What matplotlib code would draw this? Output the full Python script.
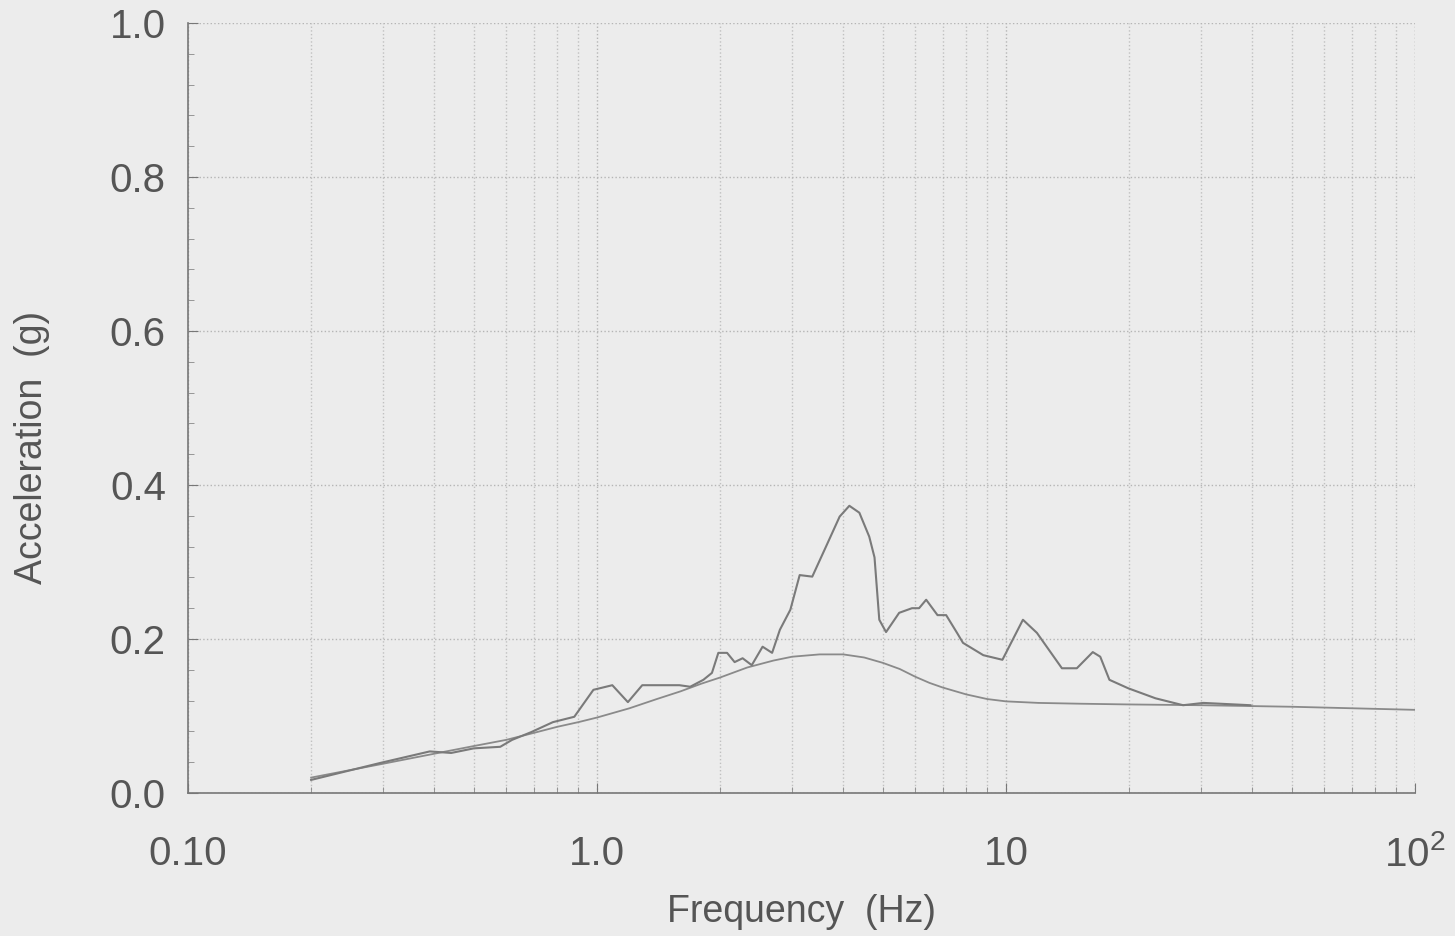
import numpy as np
import matplotlib.pyplot as plt
from matplotlib.ticker import FixedLocator, FixedFormatter, LogLocator, MultipleLocator

# Smooth design spectrum (Hz, g)
design_f = [0.2, 0.3, 0.4, 0.5, 0.6, 0.7, 0.8, 0.9, 1.0, 1.2, 1.4, 1.6, 1.8, 2.0, 2.33,
            2.7, 3.0, 3.5, 4.0, 4.5, 5.0, 5.5, 6.0, 6.5, 7.0, 8.0, 9.0, 10.0, 12.0, 15.0,
            20.0, 30.0, 50.0, 100.0]
design_g = [0.020, 0.038, 0.051, 0.061, 0.069, 0.078, 0.086, 0.092, 0.098, 0.110, 0.122,
            0.132, 0.142, 0.150, 0.163, 0.172, 0.177, 0.180, 0.180, 0.176, 0.169, 0.161,
            0.151, 0.143, 0.137, 0.128, 0.122, 0.119, 0.117, 0.116, 0.115, 0.114, 0.112,
            0.108]

# Measured response spectrum (Hz, g)
meas_f = [0.2, 0.295, 0.39, 0.44, 0.5, 0.58, 0.62, 0.69, 0.78, 0.88, 0.98, 1.09, 1.19,
          1.29, 1.59, 1.69, 1.82, 1.91, 1.98, 2.08, 2.17, 2.27, 2.39, 2.54, 2.68, 2.80,
          2.97, 3.13, 3.36, 3.63, 3.92, 4.14, 4.38, 4.63, 4.77, 4.90, 5.09, 5.48, 5.89,
          6.13, 6.38, 6.80, 7.14, 7.59, 7.85, 8.8, 9.8, 11.0, 11.9, 13.7, 14.9, 16.3,
          17.0, 17.9, 19.9, 23.2, 27.1, 30.4, 39.6]
meas_g = [0.017, 0.039, 0.054, 0.052, 0.058, 0.060, 0.069, 0.079, 0.092, 0.099, 0.134,
          0.140, 0.118, 0.140, 0.140, 0.138, 0.147, 0.156, 0.182, 0.182, 0.170, 0.175,
          0.166, 0.190, 0.182, 0.212, 0.238, 0.283, 0.281, 0.320, 0.359, 0.373, 0.364,
          0.333, 0.306, 0.225, 0.209, 0.234, 0.240, 0.240, 0.251, 0.231, 0.231, 0.208,
          0.195, 0.179, 0.173, 0.225, 0.208, 0.162, 0.162, 0.183, 0.177, 0.147, 0.136,
          0.123, 0.114, 0.117, 0.114]

x_ticks = [0.1, 1.0, 10.0, 100.0]
x_labels = ["0.10", "1.0", "10", r"$\mathregular{10^2}$"]
y_ticks = [0.0, 0.2, 0.4, 0.6, 0.8, 1.0]
y_labels = ["0.0", "0.2", "0.4", "0.6", "0.8", "1.0"]

bg = "#ececec"
plt.rcParams['font.family'] = ['Liberation Sans', 'DejaVu Sans']

fig = plt.figure(figsize=(14.55, 9.36), dpi=100, facecolor=bg)
ax = fig.add_axes([188 / 1455, 1 - 793 / 936, (1415 - 188) / 1455, (793 - 23) / 936])
ax.set_facecolor(bg)

ax.plot(design_f, design_g, color="#8a8a8a", lw=1.3)
ax.plot(meas_f, meas_g, color="#7a7a7a", lw=1.5)

ax.set_xscale("log")
ax.set_xlim(0.1, 100)
ax.set_ylim(0, 1.0)

ax.xaxis.set_major_locator(FixedLocator(x_ticks))
ax.xaxis.set_major_formatter(FixedFormatter(x_labels))
ax.xaxis.set_minor_locator(LogLocator(base=10, subs=np.arange(2, 10)))
ax.yaxis.set_major_locator(FixedLocator(y_ticks))
ax.yaxis.set_major_formatter(FixedFormatter(y_labels))
ax.yaxis.set_minor_locator(MultipleLocator(0.04))

# dotted grid
ax.grid(which="major", axis="both", color="#b5b5b5", ls=":", lw=1.0)
ax.grid(which="minor", axis="x", color="#c0c0c0", ls=":", lw=1.0)
ax.axvline(100, color="#c0c0c0", ls=":", lw=1.0)

for s in ["top", "right"]:
    ax.spines[s].set_visible(False)
for s in ["left", "bottom"]:
    ax.spines[s].set_color("#777777")
    ax.spines[s].set_linewidth(1.2)

ax.tick_params(which="major", direction="in", length=7, color="#777777",
               labelsize=29, labelcolor="#555555")
ax.tick_params(which="minor", direction="in", length=4, color="#888888")
ax.tick_params(axis="x", which="major", pad=30)
ax.tick_params(axis="y", which="major", pad=16)

ax.set_xlabel("Frequency  (Hz)", fontsize=27, color="#555555")
ax.set_ylabel("Acceleration  (g)", fontsize=27, color="#555555")
ax.xaxis.label.set_va("center")
ax.yaxis.label.set_va("center")
ax.xaxis.set_label_coords(0.5, -(912 - 793) / 770)
ax.yaxis.set_label_coords(-(188 - 32) / 1227, (793 - 447) / 770)

fig.savefig("out.png", dpi=100, facecolor=bg)
